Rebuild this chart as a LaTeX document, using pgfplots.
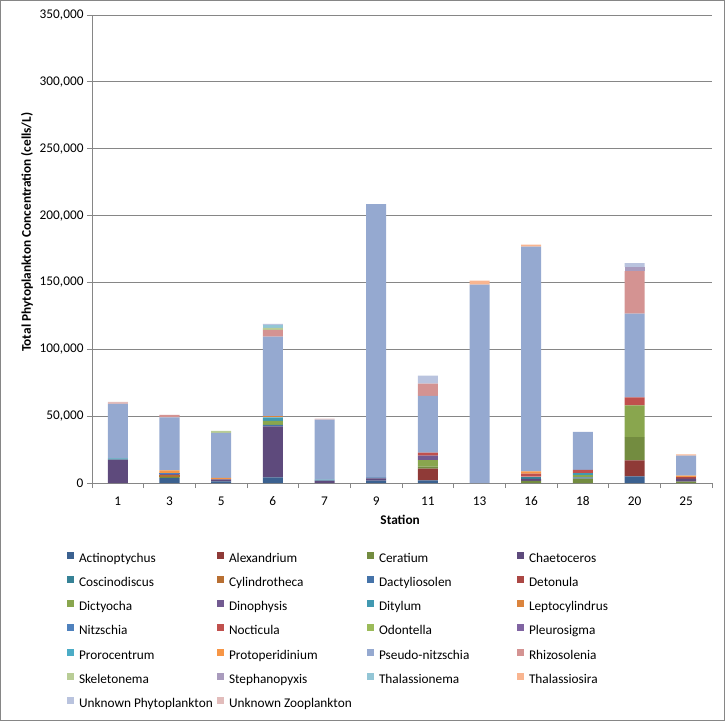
\documentclass[border=0pt]{standalone}
\usepackage{fontspec}
\setmainfont{Carlito}
\usepackage{pgfplots}
\usepackage{pgfplotstable}
\pgfplotsset{compat=1.18}

\definecolor{cgray}{HTML}{868686}
\definecolor{cAct}{HTML}{3B6190}
\definecolor{cAle}{HTML}{8F3A37}
\definecolor{cCer}{HTML}{738C40}
\definecolor{cCha}{HTML}{5E4A7C}
\definecolor{cCos}{HTML}{368296}
\definecolor{cCyl}{HTML}{B86F32}
\definecolor{cDac}{HTML}{4573A9}
\definecolor{cDet}{HTML}{AB4744}
\definecolor{cDic}{HTML}{89A64E}
\definecolor{cDin}{HTML}{725A91}
\definecolor{cDit}{HTML}{4199B1}
\definecolor{cLep}{HTML}{DB843D}
\definecolor{cNit}{HTML}{4F81BD}
\definecolor{cNoc}{HTML}{C0504D}
\definecolor{cOdo}{HTML}{9BBB59}
\definecolor{cPle}{HTML}{8064A2}
\definecolor{cPro}{HTML}{4BACC6}
\definecolor{cPrt}{HTML}{F79646}
\definecolor{cPse}{HTML}{95A9D0}
\definecolor{cRhi}{HTML}{D49392}
\definecolor{cSke}{HTML}{B9CD96}
\definecolor{cSte}{HTML}{A99BBD}
\definecolor{cTha}{HTML}{93C6D6}
\definecolor{cThs}{HTML}{F9B590}
\definecolor{cUPh}{HTML}{B9C3DE}
\definecolor{cUZo}{HTML}{E2BCBB}

\newcommand{\chartfont}{\fontsize{13.3bp}{16bp}\selectfont}
\newcommand{\lt}[1]{\makebox[138bp][l]{#1}}

\pgfplotstableread{
x Act Ale Cer Cha Cos Cyl Dac Det Dic Din Dit Lep Nit Noc Odo Ple Pro Prt Pse Rhi Ske Ste Tha Ths UPh UZo
0 0 0 0 17400 0 0 0 0 0 0 1000 0 0 0 0 0 0 0 40800 0 0 0 0 0 0 1500
1 3700 0 800 0 0 1500 0 0 0 700 0 0 800 0 0 0 0 2000 39500 2000 0 0 0 0 0 0
2 1200 0 0 1500 0 0 0 0 0 0 0 0 0 0 0 0 0 1200 33600 0 1500 0 0 0 0 0
3 4200 0 0 38100 0 0 1200 0 3000 0 2500 750 0 0 0 0 0 0 59650 5200 1500 0 1750 0 1200 0
4 0 0 0 1750 0 0 0 0 0 0 750 0 0 0 0 0 0 0 44900 0 0 0 0 0 0 750
5 1700 0 0 1700 0 0 750 0 0 0 0 0 0 0 0 0 0 0 204350 0 0 0 0 0 0 0
6 2000 8700 1500 0 0 0 0 0 5000 3200 0 0 0 2250 0 0 0 0 42600 9000 0 0 0 0 6000 0
7 0 0 0 0 0 0 0 0 0 0 0 0 0 0 0 0 0 0 148300 0 0 0 0 3000 0 0
8 0 0 1500 1500 1750 0 0 0 0 0 0 0 0 2250 0 0 0 1750 167950 0 0 0 0 1500 0 0
9 0 0 3200 0 0 0 1000 0 1700 0 1500 0 0 2500 0 0 0 0 28400 0 0 0 0 0 0 0
10 5000 12000 17250 0 0 0 0 0 23750 0 0 0 0 6000 0 0 0 0 62750 31750 0 3000 0 0 3000 0
11 0 0 1000 2250 0 0 0 1000 0 0 0 0 0 0 0 0 0 1250 15000 0 0 0 0 1000 0 0
}\data

\begin{document}
\begin{tikzpicture}
\begin{axis}[
  at={(0,0)}, anchor=south west,
  width=620bp, height=468bp, scale only axis,
  ybar stacked, bar width=20bp,
  xmin=-0.5, xmax=11.5, ymin=0, ymax=350000,
  xtick={-0.5,0.5,...,11.5},
  xticklabels={},
  extra x ticks={0,1,2,3,4,5,6,7,8,9,10,11},
  extra x tick labels={1,3,5,6,7,9,11,13,16,18,20,25},
  extra x tick style={major tick length=0pt, tick label style={yshift=-10bp}},
  ytick={0,50000,...,350000},
  scaled y ticks=false,
  /pgf/number format/.cd, fixed, 1000 sep={,}, assume math mode=true, /pgfplots/.cd,
  axis x line*=bottom, axis y line*=left,
  axis line style={draw=cgray, line width=0.75bp, -},
  tick align=outside,
  major tick length=5bp,
  tick style={draw=cgray, line width=0.75bp},
  ymajorgrids,
  major grid style={draw=cgray, line width=0.75bp},
  tick label style={font=\chartfont, text=black},
  ylabel={Total Phytoplankton Concentration (cells/L)},
  xlabel={Station},
  ylabel style={at={(axis description cs:-0.105,0.536)}, anchor=center, font=\chartfont\bfseries},
  xlabel style={at={(axis description cs:0.497,-0.079)}, anchor=center, font=\chartfont\bfseries},
  legend columns=4,
  legend cell align=left,
  legend style={
    at={(-0.0403,-0.147)}, anchor=north west,
    draw=none, fill=none, inner sep=0pt, outer sep=0pt,
    font=\chartfont,
    row sep=10.7bp,
    nodes={inner sep=0pt, text height=9bp, text depth=3bp},
    /tikz/every odd column/.append style={column sep=5bp},
  },
  legend image code/.code={\fill[#1,draw=none] (0bp,0.5bp) rectangle (7bp,7.5bp);},
]
\addplot[fill=cAct, draw=none] table[x=x, y=Act] {\data};
\addplot[fill=cAle, draw=none] table[x=x, y=Ale] {\data};
\addplot[fill=cCer, draw=none] table[x=x, y=Cer] {\data};
\addplot[fill=cCha, draw=none] table[x=x, y=Cha] {\data};
\addplot[fill=cCos, draw=none] table[x=x, y=Cos] {\data};
\addplot[fill=cCyl, draw=none] table[x=x, y=Cyl] {\data};
\addplot[fill=cDac, draw=none] table[x=x, y=Dac] {\data};
\addplot[fill=cDet, draw=none] table[x=x, y=Det] {\data};
\addplot[fill=cDic, draw=none] table[x=x, y=Dic] {\data};
\addplot[fill=cDin, draw=none] table[x=x, y=Din] {\data};
\addplot[fill=cDit, draw=none] table[x=x, y=Dit] {\data};
\addplot[fill=cLep, draw=none] table[x=x, y=Lep] {\data};
\addplot[fill=cNit, draw=none] table[x=x, y=Nit] {\data};
\addplot[fill=cNoc, draw=none] table[x=x, y=Noc] {\data};
\addplot[fill=cOdo, draw=none] table[x=x, y=Odo] {\data};
\addplot[fill=cPle, draw=none] table[x=x, y=Ple] {\data};
\addplot[fill=cPro, draw=none] table[x=x, y=Pro] {\data};
\addplot[fill=cPrt, draw=none] table[x=x, y=Prt] {\data};
\addplot[fill=cPse, draw=none] table[x=x, y=Pse] {\data};
\addplot[fill=cRhi, draw=none] table[x=x, y=Rhi] {\data};
\addplot[fill=cSke, draw=none] table[x=x, y=Ske] {\data};
\addplot[fill=cSte, draw=none] table[x=x, y=Ste] {\data};
\addplot[fill=cTha, draw=none] table[x=x, y=Tha] {\data};
\addplot[fill=cThs, draw=none] table[x=x, y=Ths] {\data};
\addplot[fill=cUPh, draw=none] table[x=x, y=UPh] {\data};
\addplot[fill=cUZo, draw=none] table[x=x, y=UZo] {\data};
\legend{\lt{Actinoptychus},\lt{Alexandrium},\lt{Ceratium},\lt{Chaetoceros},
\lt{Coscinodiscus},\lt{Cylindrotheca},\lt{Dactyliosolen},\lt{Detonula},
\lt{Dictyocha},\lt{Dinophysis},\lt{Ditylum},\lt{Leptocylindrus},
\lt{Nitzschia},\lt{Nocticula},\lt{Odontella},\lt{Pleurosigma},
\lt{Prorocentrum},\lt{Protoperidinium},\lt{Pseudo-nitzschia},\lt{Rhizosolenia},
\lt{Skeletonema},\lt{Stephanopyxis},\lt{Thalassionema},\lt{Thalassiosira},
\lt{Unknown Phytoplankton},\lt{Unknown Zooplankton}}
\end{axis}
\draw[cgray, line width=1bp] (-91.5bp,-237.5bp) rectangle (632.5bp,482.5bp);
\pgfresetboundingbox
\path (-92bp,-238bp) rectangle (633bp,483bp);
\end{tikzpicture}
\end{document}
